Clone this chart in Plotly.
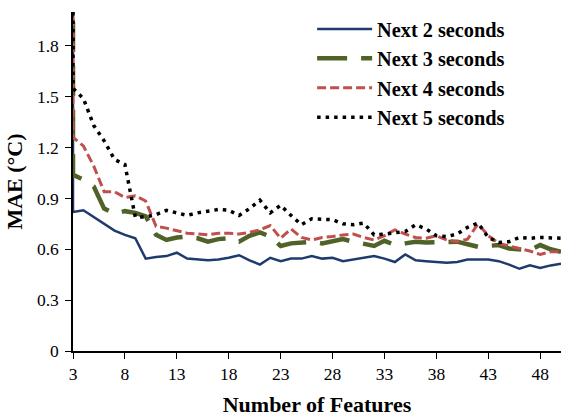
import plotly.graph_objects as go

# x positions: the first entry repeats feature 3 for the initial spike (off-scale value)
features = [3] + list(range(3, 51))

spike = 2.2  # off-scale starting value (clipped at the top of the axis)

next2 = [0.82, 0.83, 0.79, 0.75, 0.71, 0.685, 0.665, 0.545, 0.555, 0.56,
         0.58, 0.545, 0.54, 0.535, 0.54, 0.55, 0.565, 0.535, 0.51, 0.55,
         0.53, 0.545, 0.545, 0.56, 0.545, 0.55, 0.53, 0.54, 0.55, 0.56,
         0.545, 0.525, 0.57, 0.535, 0.53, 0.525, 0.52, 0.525, 0.54, 0.54,
         0.54, 0.53, 0.51, 0.485, 0.505, 0.49, 0.505, 0.515]

next3 = [1.04, 1.01, 0.97, 0.84, 0.81, 0.825, 0.815, 0.795, 0.685, 0.655,
         0.67, 0.675, 0.665, 0.645, 0.66, 0.665, 0.645, 0.68, 0.70, 0.675,
         0.62, 0.635, 0.64, 0.645, 0.635, 0.645, 0.66, 0.645, 0.635, 0.62,
         0.65, 0.625, 0.635, 0.645, 0.64, 0.64, 0.645, 0.645, 0.63, 0.615,
         0.62, 0.625, 0.605, 0.60, 0.595, 0.625, 0.60, 0.585]

next4 = [1.26, 1.21, 1.09, 0.94, 0.94, 0.905, 0.915, 0.885, 0.735, 0.725,
         0.71, 0.695, 0.69, 0.685, 0.695, 0.695, 0.69, 0.70, 0.715, 0.74,
         0.665, 0.72, 0.67, 0.655, 0.67, 0.675, 0.685, 0.69, 0.67, 0.655,
         0.68, 0.715, 0.69, 0.67, 0.665, 0.68, 0.655, 0.645, 0.66, 0.75,
         0.68, 0.635, 0.62, 0.605, 0.59, 0.57, 0.585, 0.585]

next5 = [1.55, 1.49, 1.33, 1.24, 1.13, 1.10, 0.79, 0.79, 0.805, 0.83,
         0.815, 0.80, 0.815, 0.825, 0.835, 0.83, 0.80, 0.84, 0.89, 0.815,
         0.86, 0.80, 0.745, 0.78, 0.775, 0.775, 0.75, 0.745, 0.755, 0.685,
         0.69, 0.70, 0.705, 0.745, 0.72, 0.68, 0.675, 0.69, 0.73, 0.755,
         0.67, 0.64, 0.645, 0.67, 0.665, 0.67, 0.665, 0.665]

names = ["Next 2 seconds", "Next 3 seconds", "Next 4 seconds", "Next 5 seconds"]
series = [next2, next3, next4, next5]
colors = ["#1F3B6E", "#4F6228", "#C0504D", "#000000"]
widths = [2.5, 4.5, 3, 3.5]
dashes = ["solid", "30px,14px", "9px,4px", "3.5px,5px"]

x_ticks = list(range(3, 51, 5))
y_ticks = [0, 0.3, 0.6, 0.9, 1.2, 1.5, 1.8]

FONT = "Liberation Serif"

fig = go.Figure()
for name, vals, c, w, d in zip(names, series, colors, widths, dashes):
    fig.add_trace(go.Scatter(
        x=features, y=[spike] + vals, mode="lines", name=name,
        line=dict(color=c, width=w, dash=d)))

fig.update_layout(
    width=561, height=417,
    margin=dict(l=73, r=0, t=12, b=66),
    plot_bgcolor="white", paper_bgcolor="white",
    font=dict(family=FONT, size=17, color="black"),
    legend=dict(x=0.49, y=1.008, xanchor="left", yanchor="top",
                bgcolor="rgba(0,0,0,0)", itemwidth=55,
                font=dict(family=FONT, size=20.3, color="black", weight="bold")),
    showlegend=True,
)
fig.update_xaxes(
    range=[3, 50], tickmode="array", tickvals=x_ticks,
    ticktext=[str(v) for v in x_ticks],
    showgrid=False, zeroline=False, showline=True, linecolor="black",
    linewidth=1.5, ticks="outside", ticklen=6, tickcolor="black",
    layer="below traces",
    tickfont=dict(family=FONT, size=17.5, color="black"),
    title=dict(text="Number of Features", standoff=15,
               font=dict(family=FONT, size=22, color="black", weight="bold")),
)
fig.update_yaxes(
    range=[0, 2.0], tickmode="array", tickvals=y_ticks,
    ticktext=["0", "0.3", "0.6", "0.9", "1.2", "1.5", "1.8"],
    showgrid=False, zeroline=False, showline=True, linecolor="black",
    linewidth=1.5, ticks="outside", ticklen=6, tickcolor="black",
    layer="below traces", ticklabelstandoff=3,
    tickfont=dict(family=FONT, size=17.5, color="black"),
    title=dict(text="MAE (°C)", standoff=8,
               font=dict(family=FONT, size=22, color="black", weight="bold")),
)

fig.write_html("out.html")
